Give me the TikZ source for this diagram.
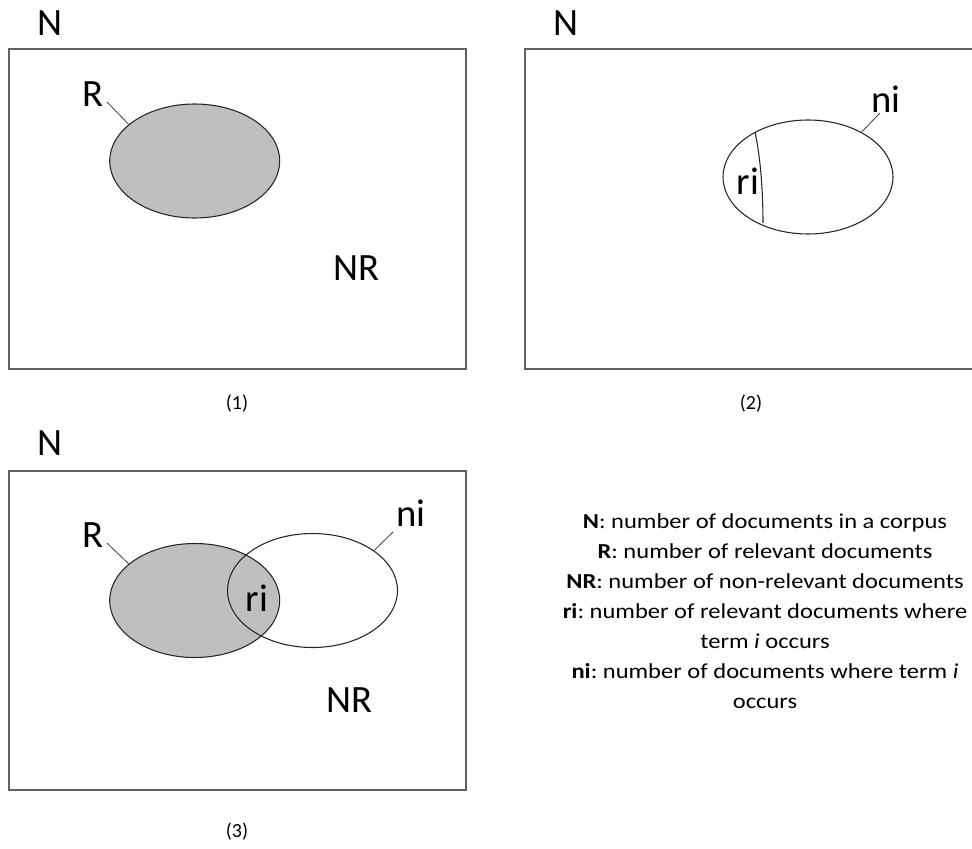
\documentclass[tikz,border=0pt]{standalone}
\usepackage{fontspec}
\setmainfont{Carlito}
\newfontfamily\legfont[FakeStretch=1.15]{Carlito}
\frenchspacing
\usetikzlibrary{shapes.geometric}
\begin{document}
\begin{tikzpicture}[x=0.75pt,y=-0.75pt,
  frame/.style={draw=black!62, line width=1.1pt},
  venn/.style={ellipse, draw=black!85, line width=0.8pt, minimum width=127.5pt, minimum height=85.5pt, inner sep=0pt},
  grey/.style={venn, fill=black!25},
  big/.style={font=\fontsize{29}{31}\selectfont, inner sep=0pt},
  captext/.style={font=\fontsize{15}{18}\selectfont, inner sep=0pt},
  leader/.style={draw=black!75, line width=0.6pt}]
\useasboundingbox (0,0) rectangle (972,849);
\begin{scope}
\clip (0,0) rectangle (972,849);
% ---------- panel 1
\draw[frame] (9,49) rectangle (466,369);
\node[big] (n1) at (50,23) {N};
\node[grey] (e1) at (194.7,161) {};
\node[big] (r1) at (93,94) {R};
\coordinate (r1a) at (107,102);
\draw[leader] (r1a) -- (e1.151);
\node[big] (nr1) at (356,268) {NR};
\node[captext] (c1) at (237,404) {(1)};
% ---------- panel 2
\draw[frame] (525,49) rectangle (990,369);
\node[big] (n2) at (566,23) {N};
\node[venn] (e2) at (808,177) {};
\coordinate (ch1) at (755,132);
\coordinate (ch2) at (763,223);
\draw[draw=black!85, line width=0.8pt] (ch1) .. controls (761,160) and (763,195) .. (ch2);
\node[big] (ri2) at (748,181) {ri};
\node[big] (ni2) at (886,99) {ni};
\coordinate (ni2a) at (880,113);
\draw[leader] (ni2a) -- (e2.40);
\node[captext] (c2) at (751,404) {(2)};
% ---------- panel 3
\draw[frame] (9,471) rectangle (466,790);
\node[big] (n3) at (50,443) {N};
\node[grey] (e3) at (194.7,600.5) {};
\node[venn] (e4) at (312.5,590.5) {};
\node[big] (ri3) at (257,598) {ri};
\node[big] (r3) at (93,535) {R};
\coordinate (r3a) at (107,543);
\draw[leader] (r3a) -- (e3.151);
\node[big] (ni3) at (411,513) {ni};
\coordinate (ni3a) at (393,532);
\draw[leader] (ni3a) -- (e4.33);
\node[big] (nr3) at (349,700) {NR};
\node[captext] (c3) at (237,832) {(3)};
% ---------- legend
\node[font=\legfont\fontsize{16}{22.5}\selectfont, align=center, inner sep=0pt] (leg) at (765,611) {%
\textbf{N}: number of documents in a corpus\\
\textbf{R}: number of relevant documents\\
\textbf{NR}: number of non-relevant documents\\
\textbf{ri}: number of relevant documents where\\
term \textit{i} occurs\\
\textbf{ni}: number of documents where term \textit{i}\\
occurs};
\end{scope}
\end{tikzpicture}
\end{document}
